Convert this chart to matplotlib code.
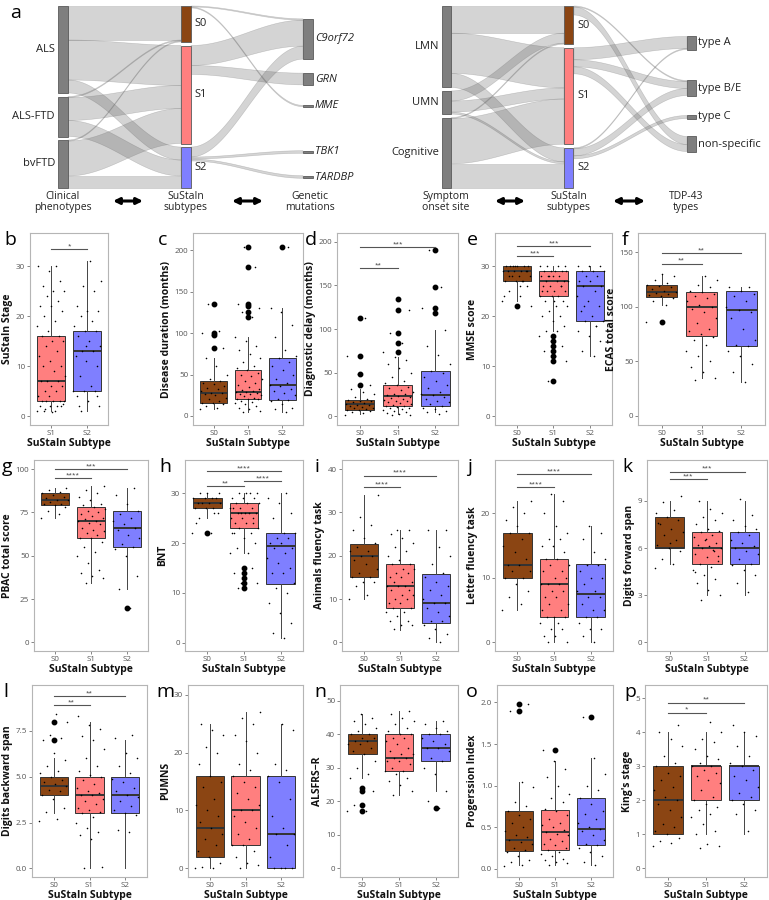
import numpy as np
import matplotlib
matplotlib.use("Agg")
import matplotlib.pyplot as plt

plt.rcParams['font.family'] = ['Open Sans', 'DejaVu Sans']

W, H = 769, 900
SUB_COLORS = {'S0': '#8B4513', 'S1': '#FF7F7F', 'S2': '#7F7FFF'}

# ---------------- sankey data ----------------
pheno_nodes = ['ALS', 'ALS-FTD', 'bvFTD']
subtype_nodes = ['S0', 'S1', 'S2']
gene_nodes = ['C9orf72', 'GRN', 'MME', 'TBK1', 'TARDBP']
pheno_flows = [('ALS', 'S0', 34), ('ALS', 'S1', 40), ('ALS', 'S2', 13),
               ('ALS-FTD', 'S0', 1), ('ALS-FTD', 'S1', 23), ('ALS-FTD', 'S2', 16),
               ('bvFTD', 'S0', 1), ('bvFTD', 'S1', 35), ('bvFTD', 'S2', 12)]
gene_flows = [('S0', 'C9orf72', 1), ('S0', 'MME', 1),
              ('S1', 'C9orf72', 20), ('S1', 'GRN', 9),
              ('S2', 'C9orf72', 10), ('S2', 'TBK1', 2), ('S2', 'TARDBP', 2)]
gene_centers = [39, 79, 106, 152, 177]

onset_nodes = ['LMN', 'UMN', 'Cognitive']
tdp_nodes = ['type A', 'type B/E', 'type C', 'non-specific']
onset_flows = [('LMN', 'S0', 27), ('LMN', 'S1', 40), ('LMN', 'S2', 14),
               ('UMN', 'S0', 10), ('UMN', 'S1', 11), ('UMN', 'S2', 2),
               ('Cognitive', 'S0', 1), ('Cognitive', 'S1', 45), ('Cognitive', 'S2', 24)]
tdp_flows = [('S0', 'type B/E', 1), ('S0', 'non-specific', 8),
             ('S1', 'type A', 12), ('S1', 'type B/E', 7), ('S1', 'non-specific', 7),
             ('S2', 'type A', 1), ('S2', 'type B/E', 7), ('S2', 'type C', 3)]
tdp_centers = [43, 88, 117, 144]

# ---------------- boxplot data ----------------
b_points = [[1, 1, 1, 2, 2, 2, 2, 3, 3, 3, 3, 3, 4, 4, 5, 5, 6, 6, 7, 7, 7, 8, 9, 10, 10, 11, 12, 13, 14, 15,
             15, 16, 16, 17, 18, 19, 20, 21, 22, 22, 23, 24, 25, 25, 26, 27, 29, 30, 30, 1.5, 2.5, 0.8],
            [1, 2, 3, 4, 5, 5, 5, 6, 8, 10, 11, 12, 13, 13, 14, 15, 16, 17, 17, 18, 19, 20, 21, 21, 22, 25,
             26, 27, 31, 2, 4, 14]]
b_box = [[1, 3, 7, 16, 30], [1, 5, 13, 17, 31]]
b_fliers = [[], []]
b_sig = [(1, 2, 33.5, '*')]

c_points = [[8, 10, 12, 14, 15, 16, 18, 20, 22, 25, 27, 28, 28, 30, 32, 34, 36, 38, 40, 42, 45, 50, 60, 70,
             82, 98, 100, 103, 135],
            [5, 6, 8, 10, 12, 14, 15, 17, 18, 20, 20, 21, 22, 24, 25, 26, 27, 28, 29, 29, 30, 31, 33, 35, 37,
             40, 42, 45, 48, 50, 52, 55, 58, 60, 65, 70, 75, 80, 85, 90, 95, 120, 125, 130, 133, 135, 180, 204],
            [5, 8, 10, 14, 18, 19, 20, 25, 28, 30, 33, 36, 37, 40, 45, 50, 55, 60, 65, 70, 72, 80, 95, 110,
             125, 130, 204]]
c_box = [[8, 16, 28, 42, 70], [5, 20, 29, 55, 95], [5, 19, 37, 70, 130]]
c_fliers = [[82, 98, 100, 135], [120, 125, 133, 135, 180, 204], [204]]
c_sig = []

d_points = [[2, 4, 5, 6, 7, 7, 8, 9, 10, 11, 12, 13, 13, 14, 15, 16, 17, 18, 19, 20, 22, 25, 28, 31, 36, 49,
             69, 113],
            [1, 2, 3, 4, 5, 6, 7, 8, 9, 10, 11, 12, 12, 13, 14, 15, 16, 17, 18, 19, 20, 21, 22, 23, 24, 25,
             26, 28, 30, 32, 34, 36, 38, 40, 45, 50, 55, 60, 65, 68, 74, 84, 95, 122, 134],
            [3, 5, 6, 8, 10, 12, 14, 16, 18, 20, 22, 24, 26, 28, 32, 36, 40, 45, 50, 52, 60, 70, 80, 99, 118,
             124, 148, 191]]
d_box = [[3, 7, 14, 19, 31], [3, 12, 23, 36, 68], [5, 12, 24, 52, 99]]
d_fliers = [[36, 49, 69, 113], [74, 84, 95, 122, 134], [118, 124, 148, 191]]
d_sig = [(1, 2, 170, '**'), (1, 3, 194, '***')]

e_points = [[23, 24, 25, 26, 27, 27, 27, 28, 28, 28, 29, 29, 29, 29, 29, 30, 30, 30, 30, 30, 30, 22, 26, 28,
             29, 30, 24, 27],
            [7, 11, 12, 13, 14, 15, 16, 17, 17, 18, 19, 20, 20, 21, 22, 22, 23, 23, 24, 24, 24, 25, 25, 25,
             26, 26, 26, 27, 27, 27, 27, 28, 28, 28, 28, 29, 29, 29, 29, 29, 30, 30, 30, 30, 23, 25, 26, 28],
            [12, 13, 15, 16, 17, 18, 19, 19, 20, 21, 22, 23, 24, 25, 26, 26, 27, 27, 28, 28, 29, 29, 29, 30,
             30, 30, 18, 22]]
e_box = [[23, 27, 29, 30, 30], [17, 24, 27, 29, 30], [12, 19, 26, 29, 30]]
e_fliers = [[22], [7, 11, 12, 13, 14, 15, 16], []]
e_sig = [(1, 2, 32.1, '***'), (1, 3, 34.0, '***')]

f_points = [[86, 102, 105, 108, 110, 111, 112, 113, 114, 115, 116, 118, 119, 120, 122, 125, 128, 130],
            [33, 35, 40, 45, 50, 55, 60, 65, 70, 72, 75, 78, 80, 85, 90, 95, 98, 100, 102, 105, 108, 110,
             112, 114, 115, 118, 120, 125, 128],
            [31, 40, 48, 55, 60, 64, 65, 70, 80, 90, 95, 97, 100, 105, 110, 112, 115, 118, 118]]
f_box = [[102, 109, 114, 120, 130], [35, 73, 100, 114, 128], [31, 64, 97, 115, 118]]
f_fliers = [[86], [], []]
f_sig = [(1, 2, 139.6, '**'), (1, 3, 149.4, '**')]

g_points = [[72, 74, 76, 78, 79, 80, 80, 81, 82, 82, 83, 84, 85, 86, 87, 88, 89],
            [34, 37, 38, 40, 42, 46, 50, 52, 55, 58, 60, 60, 62, 63, 64, 65, 66, 68, 69, 70, 70, 71, 72, 73,
             74, 75, 76, 77, 78, 79, 80, 82, 84, 86, 88, 90],
            [20, 31, 38, 50, 54, 55, 57, 60, 62, 65, 66, 68, 70, 72, 74, 76, 80, 85, 89]]
g_box = [[72, 79, 82, 86, 89], [34, 60, 70, 78, 90], [31, 55, 66, 76, 89]]
g_fliers = [[], [], [20]]
g_sig = [(1, 2, 94.6, '****'), (1, 3, 99.8, '***')]

h_points = [[22, 22, 25, 26, 27, 27, 27, 28, 28, 28, 28, 29, 29, 29, 29, 30, 30, 30, 24, 26],
            [11, 12, 13, 14, 15, 12, 18, 18, 19, 20, 21, 22, 22, 23, 23, 24, 24, 25, 25, 25, 26, 26, 26, 26,
             27, 27, 27, 28, 28, 28, 29, 29, 29, 30, 30, 30, 30, 22, 24, 26, 27],
            [1, 2, 4, 6, 8, 10, 11, 12, 14, 14, 15, 16, 17, 18, 19, 19, 20, 20, 21, 21, 22, 22, 25, 26, 28,
             29, 30]]
h_box = [[25, 27, 28, 29, 30], [18, 23, 26, 28, 30], [1, 11.7, 19.5, 22, 30]]
h_fliers = [[22], [11, 12, 13, 14, 15], []]
h_sig = [(1, 2, 31.5, '**'), (2, 3, 32.5, '****'), (1, 3, 34.5, '****')]

i_points = [[10, 11, 13, 14, 14, 15, 15, 16, 17, 18, 19, 20, 20, 21, 21, 22, 23, 24, 26, 27, 29, 34],
            [3, 4, 4, 5, 5, 6, 7, 7, 8, 8, 9, 9, 10, 10, 11, 11, 12, 12, 13, 13, 13, 14, 14, 15, 15, 16, 16,
             17, 17, 18, 18, 19, 20, 21, 22, 23, 24, 25, 26, 26],
            [0, 1, 2, 3, 4, 5, 5, 6, 7, 8, 9, 9, 10, 11, 12, 13, 14, 15, 16, 18, 20, 22, 26, 26]]
i_box = [[10, 15, 20, 22.7, 34], [2.8, 8, 13, 18, 26], [0, 4.5, 9, 15.7, 26]]
i_fliers = [[], [], []]
i_sig = [(1, 2, 35.9, '****'), (1, 3, 38.5, '****')]

j_points = [[5, 6, 7, 8, 9, 10, 10, 11, 11, 12, 12, 13, 14, 15, 16, 17, 17, 18, 19, 20, 21, 22],
            [0, 0, 1, 1, 2, 2, 3, 3, 4, 4, 4, 5, 5, 6, 6, 7, 7, 8, 8, 9, 9, 9, 10, 10, 11, 11, 12, 12, 13,
             13, 14, 15, 15, 16, 16, 17, 18, 20, 22, 23],
            [0, 1, 2, 2, 3, 4, 4, 5, 5, 6, 7, 7, 8, 8, 9, 10, 10, 11, 12, 12, 13, 14, 16, 17, 18]]
j_box = [[5, 10, 12, 17, 22], [0, 4, 9, 13, 23], [0, 4, 7.5, 12.2, 18]]
j_fliers = [[], [], []]
j_sig = [(1, 2, 24.1, '****'), (1, 3, 26.1, '****')]

k_points = [[4.7, 5.0, 5.3, 5.8, 6.0, 6.2, 6.5, 6.8, 7.0, 7.2, 7.5, 7.8, 8.0, 8.2, 8.4, 8.9, 9.3, 6.3, 7.6],
            [2.7, 3.0, 3.3, 3.8, 4.0, 4.3, 4.6, 4.8, 5.0, 5.2, 5.4, 5.6, 5.8, 6.0, 6.0, 6.1, 6.2, 6.3, 6.5,
             6.7, 6.8, 7.0, 7.1, 7.2, 7.5, 7.8, 8.0, 8.2, 8.5, 9.0, 5.5, 6.6, 4.5, 5.9],
            [3.2, 3.8, 4.3, 4.6, 4.9, 5.0, 5.3, 5.6, 5.8, 6.0, 6.1, 6.3, 6.5, 6.8, 7.0, 7.2, 7.4, 7.8, 8.1, 9.1]]
k_box = [[5, 6, 6, 8, 9], [3, 5, 6, 7, 9], [3, 5, 6, 7, 9]]
k_fliers = [[], [], []]
k_sig = [(1, 2, 10.4, '***'), (1, 3, 10.85, '***')]

l_points = [[2.6, 2.7, 3.1, 3.3, 3.8, 4.0, 4.2, 4.3, 4.5, 4.6, 4.7, 4.8, 5.0, 5.2, 5.3, 5.6, 5.9, 6.3, 7.0,
             7.1, 7.3, 8.0, 8.4],
            [0, 0.1, 1.6, 1.8, 2.0, 2.2, 2.5, 2.8, 3.0, 3.1, 3.2, 3.3, 3.5, 3.7, 3.8, 4.0, 4.0, 4.1, 4.2, 4.4,
             4.6, 4.8, 5.0, 5.1, 5.3, 5.6, 6.0, 6.5, 7.0, 7.2, 7.6, 7.8, 8.3],
            [2.0, 2.1, 2.9, 3.0, 3.2, 3.4, 3.7, 3.9, 4.0, 4.2, 4.4, 4.7, 4.9, 5.2, 5.6, 6.0, 6.3, 7.1, 7.3]]
l_box = [[3, 4, 4.5, 5, 6], [0, 3, 4, 5, 8], [0, 3, 4, 5, 7]]
l_fliers = [[7, 8], [], []]
l_sig = [(1, 2, 8.9, '**'), (1, 3, 9.4, '**')]

m_points = [[0, 0, 0.3, 1, 2, 3, 4, 5, 6, 7, 8, 9, 10, 11, 12, 14, 15, 16, 18, 20, 21, 23, 24, 25],
            [0, 0.5, 1, 2, 3, 4, 4, 5, 6, 7, 8, 9, 10, 10, 11, 12, 13, 14, 15, 16, 17, 18, 20, 22, 23, 25, 26,
             27],
            [0, 0, 0, 0, 2, 4, 6, 6, 7, 9, 12, 15, 16, 17, 18, 24, 25]]
m_box = [[0, 2, 7, 16, 25], [0, 4, 10, 16, 27], [0, 0, 6, 16, 25]]
m_fliers = [[], [], []]
m_sig = []

n_points = [[17, 17, 19, 23, 24, 27, 28, 30, 32, 34, 35, 36, 37, 37, 38, 38, 39, 39, 40, 40, 41, 42, 43, 44,
             45, 46],
            [22, 23, 25, 26, 27, 28, 29, 29, 30, 31, 32, 32, 33, 33, 34, 34, 35, 36, 37, 38, 39, 39, 40, 40,
             41, 42, 43, 44, 45, 46, 47],
            [18, 20, 23, 28, 30, 32, 33, 35, 36, 36, 37, 38, 39, 40, 40, 41, 42, 43, 44]]
n_box = [[27, 34, 38, 40, 46], [22, 29, 33, 40, 47], [23, 32, 36, 40, 44]]
n_fliers = [[17, 19, 23, 24], [], [18]]
n_sig = []

o_points = [[0.03, 0.05, 0.08, 0.1, 0.15, 0.2, 0.22, 0.25, 0.3, 0.32, 0.35, 0.38, 0.4, 0.45, 0.5, 0.55, 0.6,
             0.65, 0.7, 0.75, 0.8, 0.98, 1.04, 1.9, 1.98],
            [0.05, 0.07, 0.08, 0.1, 0.12, 0.15, 0.18, 0.2, 0.23, 0.25, 0.28, 0.3, 0.33, 0.36, 0.4, 0.42, 0.44,
             0.46, 0.5, 0.52, 0.55, 0.6, 0.65, 0.7, 0.72, 0.8, 0.85, 0.9, 1.0, 1.1, 1.2, 1.3, 1.43],
            [0.04, 0.08, 0.15, 0.2, 0.25, 0.28, 0.3, 0.35, 0.4, 0.45, 0.48, 0.5, 0.55, 0.6, 0.66, 0.7, 0.78,
             0.85, 0.95, 1.0, 1.14, 1.33, 1.83]]
o_box = [[0.05, 0.21, 0.35, 0.70, 1.04], [0.05, 0.23, 0.44, 0.71, 1.30], [0.04, 0.28, 0.48, 0.85, 1.33]]
o_fliers = [[1.9, 1.98], [1.43], [1.83]]
o_sig = []

p_points = [[0.65, 0.75, 0.8, 0.9, 1.0, 1.1, 1.2, 1.3, 1.5, 1.7, 1.9, 2.0, 2.1, 2.3, 2.4, 2.6, 2.7, 2.8, 3.0,
             3.1, 3.3, 3.6, 3.8, 4.0, 4.2],
            [0.6, 0.65, 0.7, 1.0, 1.1, 1.3, 1.5, 1.6, 1.7, 1.8, 1.9, 2.0, 2.1, 2.3, 2.5, 2.6, 2.7, 2.8, 2.9,
             3.0, 3.0, 3.1, 3.2, 3.3, 3.5, 3.7, 3.8, 4.0, 4.3],
            [1.1, 1.6, 1.7, 1.9, 2.0, 2.1, 2.2, 2.4, 2.6, 2.7, 2.9, 3.0, 3.1, 3.3, 3.6, 3.9, 4.0, 4.2]]
p_box = [[1, 1, 2, 3, 4], [1, 2, 3, 3, 4], [1, 2, 3, 3, 4]]
p_fliers = [[], [], []]
p_sig = [(1, 2, 4.58, '*'), (1, 3, 4.87, '**')]

# letter, ylabel, groups, points, box, fliers, sig, yticks, ylim, px box (l, r, t, b), letter x
panels = [
    ('b', 'SuStaIn Stage', ['S1', 'S2'], b_points, b_box, b_fliers, b_sig, [0, 10, 20, 30], (-1.8, 36.7), (30, 108, 233, 425), 4),
    ('c', 'Disease duration (months)', subtype_nodes, c_points, c_box, c_fliers, c_sig, [0, 50, 100, 150, 200], (-11, 221), (193, 303, 233, 425), 158),
    ('d', 'Diagnostic delay (months)', subtype_nodes, d_points, d_box, d_fliers, d_sig, [0, 50, 100, 150, 200], (-10, 210), (337, 458, 233, 425), 305),
    ('e', 'MMSE score', subtype_nodes, e_points, e_box, e_fliers, e_sig, [0, 10, 20, 30], (-1.8, 36.7), (495, 612, 233, 425), 467),
    ('f', 'ECAS total score', subtype_nodes, f_points, f_box, f_fliers, f_sig, [0, 50, 100, 150], (-8.3, 167.8), (638, 765, 233, 425), 622),
    ('g', 'PBAC total score', subtype_nodes, g_points, g_box, g_fliers, g_sig, [0, 25, 50, 75, 100], (-5, 105.2), (34, 148, 460, 651), 2),
    ('h', 'BNT', subtype_nodes, h_points, h_box, h_fliers, h_sig, [0, 10, 20, 30], (-1.7, 36.7), (185, 303, 460, 651), 159),
    ('i', 'Animals fluency task', subtype_nodes, i_points, i_box, i_fliers, i_sig, [0, 10, 20, 30, 40], (-2, 42.1), (342, 458, 460, 651), 315),
    ('j', 'Letter fluency task', subtype_nodes, j_points, j_box, j_fliers, j_sig, [0, 10, 20], (-1.35, 28.3), (495, 613, 460, 651), 467),
    ('k', 'Digits forward span', subtype_nodes, k_points, k_box, k_fliers, k_sig, [0, 3, 6, 9], (-0.55, 11.6), (647, 767, 460, 651), 622),
    ('l', 'Digits backward span', subtype_nodes, l_points, l_box, l_fliers, l_sig, [0, 2.5, 5, 7.5], (-0.47, 10.0), (32, 147, 685, 877), 3),
    ('m', 'PUMNS', subtype_nodes, m_points, m_box, m_fliers, m_sig, [0, 10, 20, 30], (-1.5, 31.7), (188, 303, 685, 877), 156),
    ('n', 'ALSFRS\u2212R', subtype_nodes, n_points, n_box, n_fliers, n_sig, [0, 10, 20, 30, 40, 50], (-2.6, 54.7), (340, 458, 685, 877), 314),
    ('o', 'Progerssion Index', subtype_nodes, o_points, o_box, o_fliers, o_sig, [0, 0.5, 1.0, 1.5, 2.0], (-0.1, 2.21), (497, 613, 685, 877), 466),
    ('p', "King's stage", subtype_nodes, p_points, p_box, p_fliers, p_sig, [0, 1, 2, 3, 4, 5], (-0.26, 5.39), (645, 767, 685, 877), 624),
]
tick_fmt = {'l': '{:.1f}', 'o': '{:.1f}'}

fig = plt.figure(figsize=(W / 100, H / 100), dpi=100)


def px_axes(l, r, t, b):
    return fig.add_axes([l / W, 1 - b / H, (r - l) / W, (b - t) / H])


# ---------------- sankey ----------------
TOP, BOT, GAP = 6, 188, 3.5
FLOW_FC = (0.35, 0.35, 0.35, 0.26)
FLOW_EC = (0.45, 0.45, 0.45, 0.35)


def stack(names, totals, scale):
    pos, y = {}, TOP
    for nm in names:
        h = totals[nm] * scale
        pos[nm] = [y, y + h]
        y += h + GAP
    return pos


def ribbon(ax, x0, x1, a0, a1, b0, b1):
    t = np.linspace(0, 1, 60)
    s = (1 - np.cos(np.pi * t)) / 2
    xs = x0 + (x1 - x0) * t
    top = a0 + (a1 - a0) * s
    bot = b0 + (b1 - b0) * s
    ax.fill(np.concatenate([xs, xs[::-1]]), np.concatenate([top, bot[::-1]]),
            fc=FLOW_FC, ec=FLOW_EC, lw=0.4, zorder=1)


def link(ax, x0, x1, src_names, dst_names, flows, src_pos, dst_pos, sc, dscale):
    # outgoing stacked by target order, incoming stacked by source order
    out_off = {n: src_pos[n][0] for n in src_names}
    in_off = {n: dst_pos[n][0] for n in dst_names}
    seg = {}
    for s in src_names:
        for t in dst_names:
            for fs, ft, v in flows:
                if fs == s and ft == t:
                    seg[(s, t)] = [out_off[s], v * sc]
                    out_off[s] += v * sc
    for t in dst_names:
        for s in src_names:
            if (s, t) in seg:
                seg[(s, t)].append(in_off[t])
                in_off[t] += seg[(s, t)][1] * dscale
    for (s, t), (a0, h, a1) in seg.items():
        ribbon(ax, x0, x1, a0, a1, a0 + h, a1 + h * dscale)


def node(ax, x, w, y0, y1, fc):
    ax.add_patch(plt.Rectangle((x, y0), w, y1 - y0, fc=fc, ec='#5a5a5a', lw=0.6, zorder=3))


def sankey(ax, xs, left, mid, right, flows1, flows2, centers, rscale, italic):
    ltot = {n: sum(v for s, t, v in flows1 if s == n) for n in left}
    mtot = {n: sum(v for s, t, v in flows1 if t == n) for n in mid}
    rtot = {n: sum(v for s, t, v in flows2 if t == n) for n in right}
    sc = (BOT - TOP - GAP * (len(left) - 1)) / sum(ltot.values())
    lpos = stack(left, ltot, sc)
    mpos = stack(mid, mtot, sc)
    rpos = {}
    for nm, c in zip(right, centers):
        h = max(rtot[nm] * sc * rscale, 1.2)
        rpos[nm] = [c - h / 2, c + h / 2]
    nw = xs[0][1] - xs[0][0]
    link(ax, xs[0][1], xs[1][0], left, mid, flows1, lpos, mpos, sc, 1.0)
    link(ax, xs[1][1], xs[2][0], mid, right, flows2, mpos, rpos, sc, rscale)
    for nm in left:
        y0, y1 = lpos[nm]
        node(ax, xs[0][0], nw, y0, y1, '#7f7f7f')
        ax.text(xs[0][0] - 3, (y0 + y1) / 2, nm, ha='right', va='center', fontsize=8, color='#222222')
    for nm in mid:
        y0, y1 = mpos[nm]
        node(ax, xs[1][0], nw, y0, y1, SUB_COLORS[nm])
        ax.text(xs[1][1] + 3, (y0 + y1) / 2, nm, ha='left', va='center', fontsize=8, color='#222222')
    for nm in right:
        y0, y1 = rpos[nm]
        node(ax, xs[2][0], nw, y0, y1, '#7f7f7f')
        ax.text(xs[2][1] + 2, (y0 + y1) / 2, nm, ha='left', va='center', fontsize=8, color='#222222',
                style='italic' if italic else 'normal')


sax = px_axes(0, W, 0, 225)
sax.set_xlim(0, W)
sax.set_ylim(225, 0)
sax.axis('off')

sankey(sax, [(58, 68), (181, 191), (303, 313)], pheno_nodes, subtype_nodes, gene_nodes,
       pheno_flows, gene_flows, gene_centers, 1.3, True)
sankey(sax, [(442, 451), (564, 574), (687, 696)], onset_nodes, subtype_nodes, tdp_nodes,
       onset_flows, tdp_flows, tdp_centers, 1.0, False)

for x, txt in [(63, 'Clinical\nphenotypes'), (186, 'SuStaIn\nsubtypes'), (310, 'Genetic\nmutations'),
               (446, 'Symptom\nonset site'), (569, 'SuStaIn\nsubtypes'), (686, 'TDP-43\ntypes')]:
    sax.text(x, 202, txt, ha='center', va='center', fontsize=7.5, color='#222222', linespacing=1.1)
for x0, x1 in [(113, 143), (232, 263), (495, 525), (613, 645)]:
    sax.annotate('', xy=(x1, 201), xytext=(x0, 201),
                 arrowprops=dict(arrowstyle='<|-|>', lw=2.2, color='black', mutation_scale=9,
                                 shrinkA=0, shrinkB=0))
fig.text(16 / W, 1 - 13 / H, 'a', fontsize=14, ha='center', va='center')

# ---------------- boxplots ----------------
for letter, ylabel, groups, pts, box, fl, sig, yticks, ylim, (l, r, t, b), lx in panels:
    ax = px_axes(l, r, t, b)
    n = len(groups)
    stats = []
    for bx, f in zip(box, fl):
        stats.append(dict(whislo=bx[0], q1=bx[1], med=bx[2], q3=bx[3], whishi=bx[4], fliers=f))
    art = ax.bxp(stats, positions=range(1, n + 1), widths=0.78, patch_artist=True, showcaps=False,
                 boxprops=dict(ec='#333333', lw=0.7),
                 medianprops=dict(color='#333333', lw=1.4),
                 whiskerprops=dict(color='#444444', lw=0.7),
                 flierprops=dict(marker='o', markersize=3.2, mfc='black', mec='black'))
    for patch, g in zip(art['boxes'], groups):
        patch.set_facecolor(SUB_COLORS[g])
    for k, vals in enumerate(pts):
        m = len(vals)
        jit = ((np.arange(m) * 0.618034 + 0.31 * k) % 1.0 - 0.5) * 0.8
        ax.scatter(k + 1 + jit, vals, s=1.3, color='black', lw=0, zorder=5)
    span = ylim[1] - ylim[0]
    for i, j, y, lab in sig:
        ax.plot([i, j], [y, y], color='#555555', lw=0.8, zorder=4)
        ax.text((i + j) / 2, y + 0.004 * span, lab, ha='center', va='bottom', fontsize=4.5, color='#333333')
    ax.set_xlim(0.4, n + 0.6)
    ax.set_ylim(*ylim)
    ax.set_xticks(range(1, n + 1))
    ax.set_xticklabels(groups)
    ax.set_yticks(yticks)
    fmt = tick_fmt.get(letter)
    if fmt:
        ax.set_yticklabels([fmt.format(v) for v in yticks])
    ax.tick_params(labelsize=5.8, labelcolor='#555555', color='#555555', length=2, width=0.5, pad=1.5)
    for sp in ax.spines.values():
        sp.set_color('#b5b5b5')
        sp.set_linewidth(0.8)
    ax.set_ylabel(ylabel, fontsize=7.5, fontweight='bold', color='#111111', labelpad=2)
    ax.set_xlabel('SuStaIn Subtype', fontsize=7.5, fontweight='bold', color='#111111', labelpad=1)
    fig.text(lx / W, 1 - (t - 2) / H, letter, fontsize=14, ha='left', va='top')

fig.savefig('out.png', dpi=100)
